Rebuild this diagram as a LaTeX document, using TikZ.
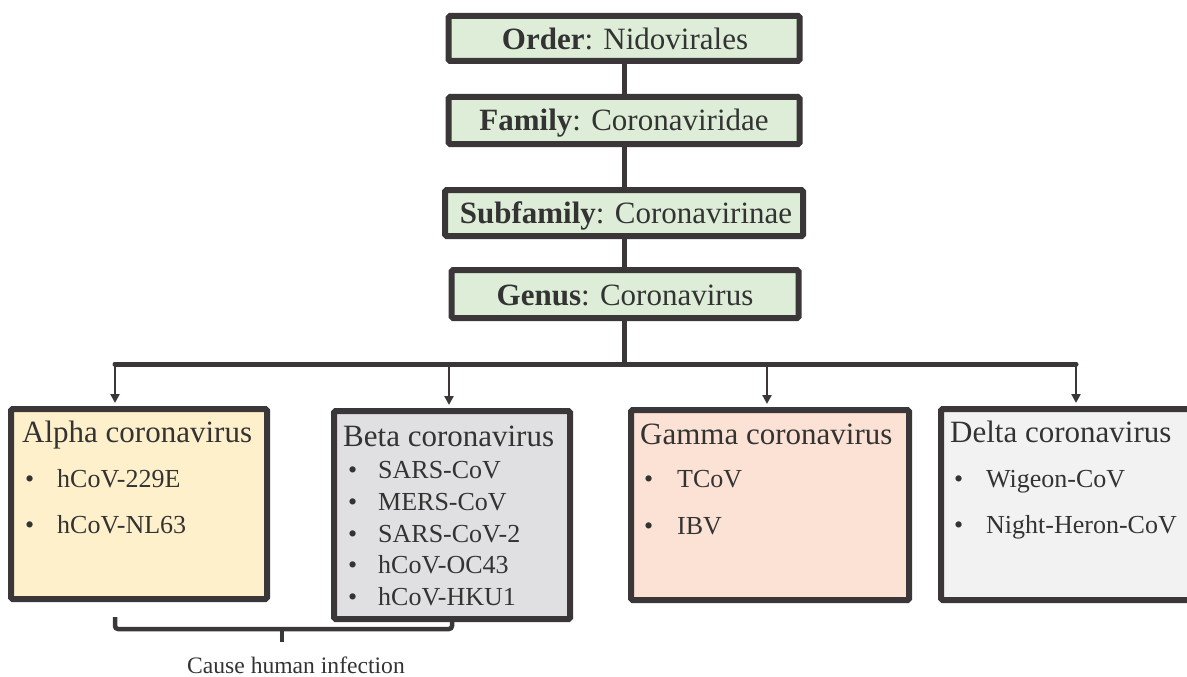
\documentclass[tikz,border=0pt]{standalone}
\usepackage{fontspec}
\setmainfont{Liberation Serif}
\usetikzlibrary{arrows.meta}
\definecolor{edge}{HTML}{3B3739}
\definecolor{ink}{HTML}{333333}
\definecolor{taxfill}{HTML}{DEEDD8}
\definecolor{alphafill}{HTML}{FFF0CC}
\definecolor{betafill}{HTML}{E0E0E2}
\definecolor{gammafill}{HTML}{FBE2D4}
\definecolor{deltafill}{HTML}{F2F2F2}
\begin{document}
\begin{tikzpicture}[x=1pt,y=-1pt,
  box/.style={draw=edge, line width=6pt, rectangle, inner sep=0pt, rounded corners=1.5pt},
  taxbox/.style={box, fill=taxfill},
  big/.style={font=\fontsize{31}{36}\selectfont, text=ink, inner sep=0pt, anchor=base},
  title/.style={font=\fontsize{31}{36}\selectfont, text=ink, inner sep=0pt, anchor=base west},
  item/.style={font=\fontsize{26}{30}\selectfont, text=ink, inner sep=0pt, anchor=base west},
  trunk/.style={draw=edge, line width=5pt},
  branch/.style={draw=edge, line width=2.7pt, -{Triangle[width=9pt,length=9pt]}},
  brace/.style={draw=edge, line width=4.5pt, rounded corners=3pt},
]
\useasboundingbox (0,0) rectangle (1187,677);
\clip (0,0) rectangle (1187,677);

% taxonomy boxes
\node[taxbox, minimum width=351pt, minimum height=45pt] (order) at (624,38.5) {};
\node[taxbox, minimum width=351pt, minimum height=47pt] (family) at (624,120.5) {};
\node[taxbox, minimum width=358pt, minimum height=46pt] (subfamily) at (624,213) {};
\node[taxbox, minimum width=347pt, minimum height=48pt] (genus) at (625,294) {};

\node[big] (ordertxt) at (625,50) {\textbf{Order}: Nidovirales};
\node[big] (familytxt) at (624,131) {\textbf{Family}: Coronaviridae};
\node[big] (subfamilytxt) at (626,223) {\textbf{Subfamily}: Coronavirinae};
\node[big] (genustxt) at (625,305) {\textbf{Genus}: Coronavirus};

% spine
\coordinate (spine) at (624,0);
\coordinate (barL) at (115,364);
\coordinate (barR) at (1076,364);
\draw[trunk] (order.south -| spine) -- (family.north -| spine);
\draw[trunk] (family.south -| spine) -- (subfamily.north -| spine);
\draw[trunk] (subfamily.south -| spine) -- (genus.north -| spine);
\draw[trunk] (genus.south -| spine) -- (barL -| spine);
\draw[trunk, line cap=round] (barL) -- (barR);

% bracket (under boxes)
\coordinate (brL) at (115,617);
\coordinate (brR) at (452,619);
\coordinate (brMid) at (282,629);
\coordinate (brTip) at (282,642);
\draw[brace] (brL) -- (brL |- brMid) -- (brR |- brMid) -- (brR);
\draw[draw=edge, line width=4.5pt] (brMid) -- (brTip);

% genus boxes
\node[box, fill=alphafill, minimum width=256pt, minimum height=190pt] (alpha) at (139,504) {};
\node[box, fill=betafill, minimum width=236pt, minimum height=208pt] (beta) at (452,515) {};
\node[box, fill=gammafill, minimum width=278pt, minimum height=190pt] (gamma) at (770,505) {};
\node[box, fill=deltafill, minimum width=259pt, minimum height=191pt] (delta) at (1070.5,504.5) {};

% branch arrows
\draw[branch, shorten >=3pt] (barL) -- (barL |- alpha.north);
\draw[branch, shorten >=3pt] (449,364) -- (449,0 |- beta.north);
\draw[branch, shorten >=3pt] (767,364) -- (767,0 |- gamma.north);
\draw[branch, shorten >=3pt] (barR) -- (barR |- delta.north);

% texts
\node[title] (alphat) at (22,442) {Alpha coronavirus};
\node[item] (a1) at (25,487) {\makebox[32pt][l]{•}hCoV-229E};
\node[item] (a2) at (25,533) {\makebox[32pt][l]{•}hCoV-NL63};

\node[title] (betat) at (343,446) {Beta coronavirus};
\node[item] (b1) at (348,478) {\makebox[30pt][l]{•}SARS-CoV};
\node[item] (b2) at (348,510) {\makebox[30pt][l]{•}MERS-CoV};
\node[item] (b3) at (348,542) {\makebox[30pt][l]{•}SARS-CoV-2};
\node[item] (b4) at (348,573) {\makebox[30pt][l]{•}hCoV-OC43};
\node[item] (b5) at (348,605) {\makebox[30pt][l]{•}hCoV-HKU1};

\node[title] (gammat) at (640,444) {Gamma coronavirus};
\node[item] (g1) at (644,487) {\makebox[33pt][l]{•}TCoV};
\node[item] (g2) at (644,534) {\makebox[33pt][l]{•}IBV};

\node[title] (deltat) at (950,442) {Delta coronavirus};
\node[item] (d1) at (954,487) {\makebox[32pt][l]{•}Wigeon-CoV};
\node[item] (d2) at (954,533) {\makebox[32pt][l]{•}Night-Heron-CoV};

\node[font=\fontsize{23.6}{28}\selectfont, text=ink, inner sep=0pt, anchor=base] (human) at (296,673) {Cause human infection};
\end{tikzpicture}
\end{document}
